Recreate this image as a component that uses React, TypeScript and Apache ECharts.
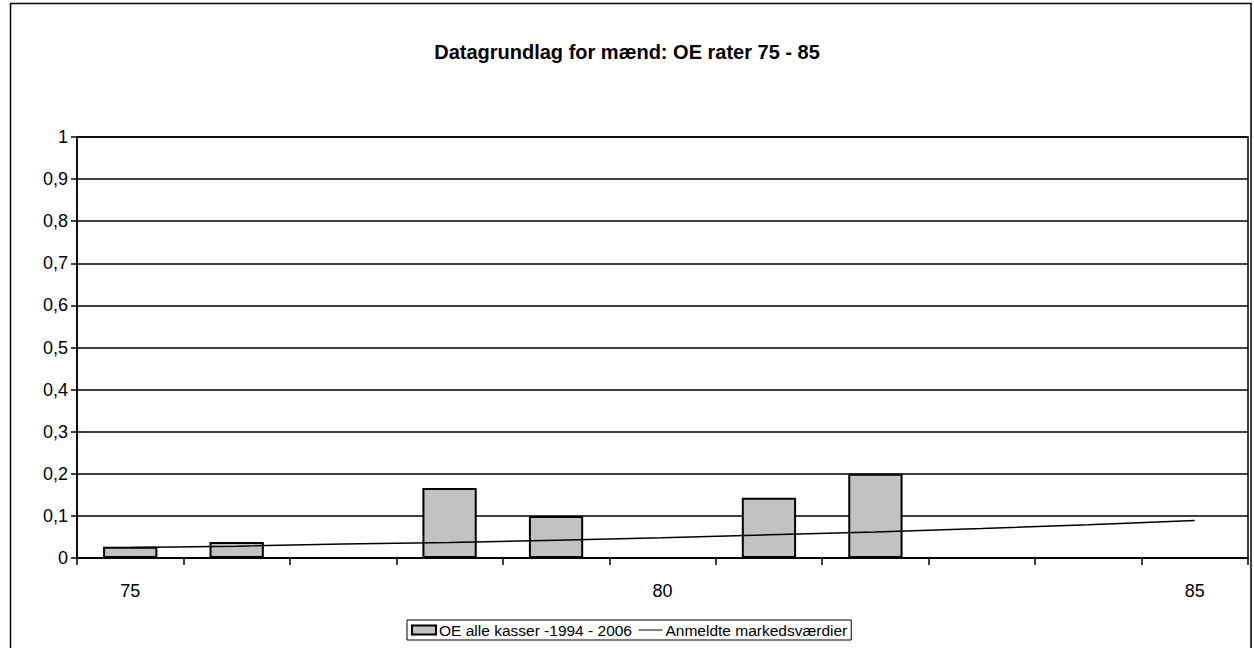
import React, { useEffect, useRef } from "react";
import * as echarts from "echarts";

const categories = ["75", "76", "77", "78", "79", "80", "81", "82", "83", "84", "85"];
const oeValues: (number | null)[] = [0.027, 0.038, null, 0.166, 0.1, null, 0.143, 0.2, null, null, null];
const marketValues = [0.025, 0.028, 0.033, 0.037, 0.042, 0.048, 0.055, 0.062, 0.07, 0.079, 0.089];
const barName = "OE alle kasser -1994 - 2006";
const lineName = "Anmeldte markedsværdier";
const titleText = "Datagrundlag for mænd: OE rater 75 - 85";

export default function App() {
  const ref = useRef<HTMLDivElement>(null);
  useEffect(() => {
    if (!ref.current) return;
    const chart = echarts.init(ref.current, null, { renderer: "svg" });
    const font = "Arial, 'Liberation Sans', sans-serif";
    chart.setOption({
      animation: false,
      backgroundColor: "#fff",
      textStyle: { fontFamily: font, color: "#000" },
      title: {
        text: titleText,
        left: "center",
        top: 37,
        textStyle: { fontFamily: font, fontSize: 20, fontWeight: "bold", color: "#000" },
      },
      graphic: [
        {
          type: "rect",
          shape: { x: 10.5, y: 3.5, width: 1240.5, height: 700 },
          style: { fill: "none", stroke: "#000", lineWidth: 1.5 },
          silent: true,
          z: 100,
        },
      ],
      legend: {
        left: 407,
        top: 620,
        orient: "horizontal",
        borderColor: "#000",
        borderWidth: 1,
        padding: [2, 4, 2, 4],
        itemGap: 6,
        itemWidth: 24,
        itemHeight: 9,
        textStyle: { fontFamily: font, fontSize: 15.5, color: "#000", padding: [0, 0, 0, -2] },
        data: [
          { name: barName, icon: "rect" },
          { name: lineName, itemStyle: { opacity: 0 }, lineStyle: { color: "#000", width: 1 } },
        ],
      },
      grid: {
        left: 77,
        right: 6,
        top: 137,
        bottom: 90,
        show: true,
        borderColor: "#000",
        borderWidth: 1.5,
        containLabel: false,
      },
      xAxis: {
        type: "category",
        data: categories,
        boundaryGap: true,
        axisLine: { lineStyle: { color: "#000", width: 1.5 } },
        axisTick: { show: true, interval: 0, length: 7, lineStyle: { color: "#000", width: 1.5 } },
        axisLabel: {
          interval: (i: number) => i % 5 === 0,
          fontSize: 18,
          color: "#000",
          fontFamily: font,
          margin: 24,
        },
        splitLine: { show: false },
      },
      yAxis: {
        type: "value",
        min: 0,
        max: 1,
        interval: 0.1,
        axisLine: { show: true, lineStyle: { color: "#000", width: 1.5 } },
        axisTick: { show: true, length: 6, lineStyle: { color: "#000", width: 1.5 } },
        axisLabel: {
          fontSize: 18,
          color: "#000",
          fontFamily: font,
          margin: 9,
          formatter: (v: number) => String(Math.round(v * 10) / 10).replace(".", ","),
        },
        splitLine: { show: true, lineStyle: { color: "#000", width: 1.5 } },
      },
      series: [
        {
          name: barName,
          type: "bar",
          data: oeValues,
          barWidth: "51%",
          itemStyle: { color: "#c2c2c2", borderColor: "#000", borderWidth: 2 },
        },
        {
          name: lineName,
          type: "line",
          data: marketValues,
          symbol: "none",
          showSymbol: false,
          lineStyle: { color: "#000", width: 1.5 },
          itemStyle: { color: "#000" },
          z: 3,
        },
      ],
    });
    return () => chart.dispose();
  }, []);
  return (
    <div
      ref={ref}
      style={{ width: 1254, height: 648, position: "fixed", left: 0, top: 0 }}
    />
  );
}
